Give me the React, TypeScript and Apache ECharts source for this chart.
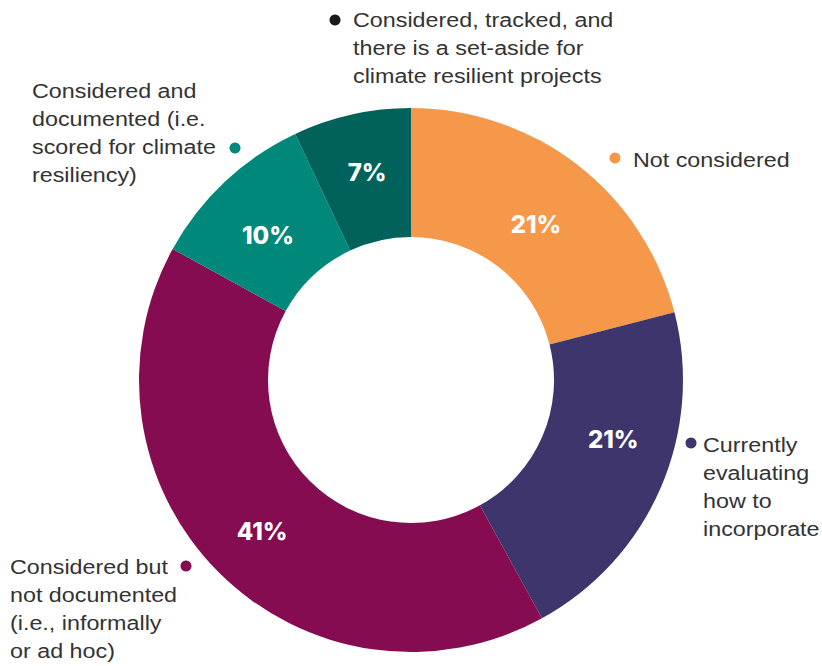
import React, { useEffect, useRef } from "react";
import * as echarts from "echarts";

const categories = [
  "Not considered",
  "Currently evaluating how to incorporate",
  "Considered but not documented (i.e., informally or ad hoc)",
  "Considered and documented (i.e. scored for climate resiliency)",
  "Considered, tracked, and there is a set-aside for climate resilient projects",
];
const values = [21, 21, 41, 10, 7];
const colors = ["#F5984A", "#3D356B", "#850C50", "#00897A", "#00625A"];

const outsideLabels = [
  { text: "Not considered", x: 633, y: 146, dotX: 615, dotY: 158, dot: "#F5984A" },
  { text: "Currently\nevaluating\nhow to\nincorporate", x: 703, y: 431, dotX: 691, dotY: 443, dot: "#3D356B" },
  { text: "Considered but\nnot documented\n(i.e., informally\nor ad hoc)", x: 10, y: 553, dotX: 186, dotY: 566, dot: "#850C50" },
  { text: "Considered and\ndocumented (i.e.\nscored for climate\nresiliency)", x: 32, y: 77, dotX: 235, dotY: 148, dot: "#00897A" },
  { text: "Considered, tracked, and\nthere is a set-aside for\nclimate resilient projects", x: 353, y: 6, dotX: 335, dotY: 20, dot: "#1A1A1A" },
];

const labelOffsets: (number[] | null)[] = [[-4, 11], [9, -24], [0, 3], [1, 9], [2, -2]];

export default function App() {
  const ref = useRef<HTMLDivElement>(null);
  useEffect(() => {
    if (!ref.current) return;
    const chart = echarts.init(ref.current, null, { renderer: "svg" });
    const graphics: any[] = [];
    outsideLabels.forEach((l) => {
      graphics.push({
        type: "circle",
        shape: { cx: l.dotX, cy: l.dotY, r: 5.5 },
        style: { fill: l.dot },
      });
      graphics.push({
        type: "text",
        x: l.x,
        y: l.y,
        scaleX: 1.11,
        style: {
          text: l.text,
          font: "21px 'Liberation Sans', Arial, sans-serif",
          fill: "#333333",
          lineHeight: 28,
          textAlign: "left",
          textVerticalAlign: "top",
        },
      });
    });
    chart.setOption({
      animation: false,
      backgroundColor: "#ffffff",
      graphic: graphics,
      series: [
        {
          type: "pie",
          center: [411, 380],
          radius: [143, 272],
          startAngle: 90,
          clockwise: true,
          avoidLabelOverlap: false,
          label: {
            show: true,
            position: "inside",
            formatter: "{c}%",
            color: "#ffffff",
            fontFamily: "Inter, 'Open Sans', sans-serif",
            fontWeight: 800,
            fontSize: 24,
          },
          labelLine: { show: false },
          emphasis: { disabled: true },
          data: categories.map((name, i) => ({
            name,
            value: values[i],
            itemStyle: { color: colors[i] },
            label: labelOffsets[i] ? { offset: labelOffsets[i] } : undefined,
          })),
        },
      ],
    });
    return () => chart.dispose();
  }, []);
  return (
    <div
      ref={ref}
      style={{ position: "fixed", left: 0, top: 0, width: 822, height: 666 }}
    />
  );
}
